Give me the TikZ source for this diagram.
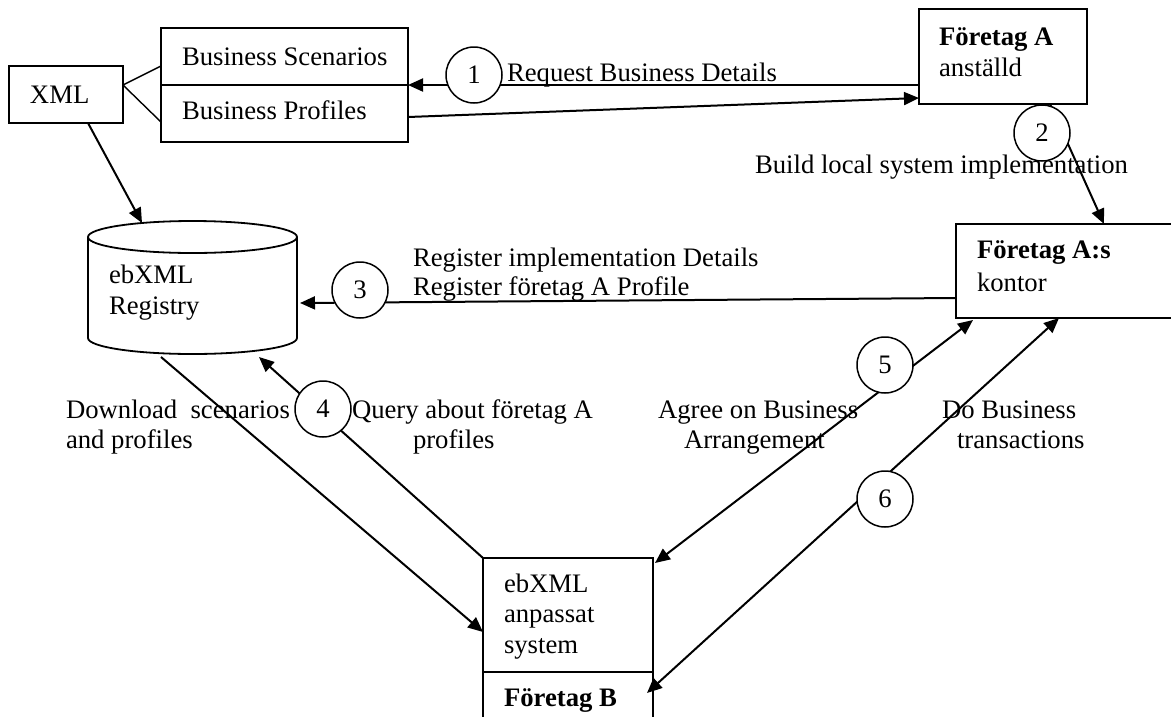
\documentclass[tikz,border=0pt]{standalone}
\usepackage{fontspec}
\setmainfont{Liberation Serif}
\usetikzlibrary{arrows.meta,calc}
\begin{document}
\begin{tikzpicture}[x=1pt,y=-1pt,
  every node/.style={inner sep=0pt, outer sep=0pt},
  lbl/.style={anchor=base west, font=\fontsize{26.7}{30.5}\selectfont},
  box/.style={draw, line width=1.8pt},
  num/.style={circle, draw, line width=1.5pt, fill=white, minimum size=56pt,
              font=\fontsize{26.7}{30.5}\selectfont},
  conn/.style={line width=2pt},
  tip/.style={-{Triangle[length=15pt,width=13pt]}},
  both/.style={{Triangle[length=15pt,width=13pt]}-{Triangle[length=15pt,width=13pt]}},
  fork/.style={line width=1.4pt},
]
\useasboundingbox (0,0) rectangle (1171,716);
\clip (0,0) rectangle (1171,716);

% boxes
\node[box, minimum width=114pt, minimum height=57pt]  (xml) at (66,94.5) {};
\node[box, minimum width=247pt, minimum height=114pt] (biz) at (284.5,85) {};
\draw[line width=1.8pt] (biz.west) -- (biz.east);
\node[box, minimum width=168pt, minimum height=95pt]  (fa)  at (1003,56.5) {};
\node[box, minimum width=234pt, minimum height=94pt]  (ko)  at (1073,271) {};
\node[box, minimum width=170pt, minimum height=182pt] (fb)  at (568,649) {};
\draw[line width=1.8pt] ($(fb.west)+(0,23)$) -- ($(fb.east)+(0,23)$);

% registry cylinder
\node[minimum width=209pt, minimum height=101pt] (reg) at (192.5,287.5) {};
\draw[line width=1.8pt] (reg.north west) -- (reg.south west)
  arc[start angle=180, end angle=360, x radius=104.5pt, y radius=16pt] -- (reg.north east);
\draw[line width=1.8pt] (reg.north) ellipse [x radius=104.5pt, y radius=16pt];

% connectors
\coordinate (xj) at ($(xml.east)+(0,-9.5)$);
\draw[fork] (xj) -- ($(biz.west)+(0,-19)$);
\draw[fork] (xj) -- ($(biz.west)+(0,37)$);
\draw[conn, tip] ($(xml.south)+(22,0)$) -- ($(reg.north)+(-50.5,-14)$);
\draw[conn, tip] (fa.west |- biz.east) -- (biz.east);
\draw[conn, tip] ($(biz.east)+(0,32)$) -- ($(fa.west)+(0,41.5)$);
\draw[conn, tip] ($(fa.south)+(47,0)$) -- ($(ko.north)+(31,0)$);
\draw[conn, tip] ($(ko.west)+(0,27)$) -- ($(reg.east)+(3,15.5)$);
\draw[conn, tip] (fb.north west) -- ($(reg.south)+(66.5,19)$);
\draw[conn, tip] ($(reg.south)+(-31.5,19)$) -- ($(fb.west)+(0,-17)$);
\draw[conn, both] ($(fb.north east)+(2,5)$) -- ($(ko.south)+(-100,2)$);
\draw[conn, both] ($(fb.east)+(-6,44)$) -- ($(ko.south)+(-14,0)$);

% step numbers
\node[num] (c1) at (474,75)  {1};
\node[num] (c2) at (1042,133) {2};
\node[num] (c3) at (360,290) {3};
\node[num] (c4) at (323,409) {4};
\node[num] (c5) at (885,365) {5};
\node[num] (c6) at (885,499) {6};

% texts
\node[lbl] (tbs) at (182,65)  {Business Scenarios};
\node[lbl] (tbp) at (182,119) {Business Profiles};
\node[lbl] (txml) at (30,103) {XML};
\node[lbl] (treg1) at (109,283) {ebXML};
\node[lbl] (treg2) at (109,314) {Registry};
\node[lbl] (t1) at (507,81) {Request Business Details};
\node[lbl] (tfa1) at (939,45) {\textbf{Företag A}};
\node[lbl] (tfa2) at (939,76) {anställd};
\node[lbl] (t2) at (755,173) {Build local system implementation};
\node[lbl] (t3a) at (413,266) {Register implementation Details};
\node[lbl] (t3b) at (413,295) {Register företag A Profile};
\node[lbl] (tko1) at (977,258) {\textbf{Företag A:s}};
\node[lbl] (tko2) at (977,291) {kontor};
\node[lbl] (tdl1) at (66,418) {Download\ \ scenarios};
\node[lbl] (tdl2) at (66,448) {and profiles};
\node[lbl] (t4a) at (352,418) {Query about företag A};
\node[lbl] (t4b) at (413,448) {profiles};
\node[lbl] (t5a) at (658,418) {Agree on Business};
\node[lbl] (t5b) at (684,448) {Arrangement};
\node[lbl] (t6a) at (942,418) {Do Business};
\node[lbl] (t6b) at (957,448) {transactions};
\node[lbl] (tfb1) at (504,592) {ebXML};
\node[lbl] (tfb2) at (504,622) {anpassat};
\node[lbl] (tfb3) at (504,653) {system};
\node[lbl] (tfb4) at (504,706) {\textbf{Företag B}};
\end{tikzpicture}
\end{document}
